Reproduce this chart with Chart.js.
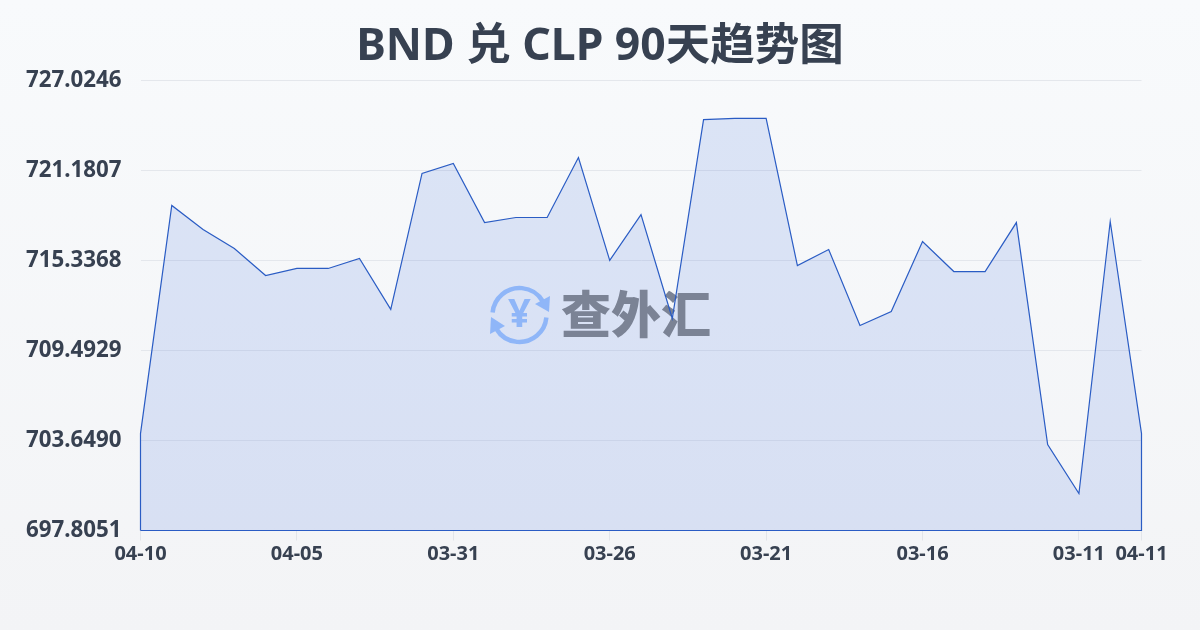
<!DOCTYPE html>
<html><head><meta charset="utf-8">
<style>
html,body{margin:0;padding:0;width:1200px;height:630px;overflow:hidden;background:linear-gradient(180deg,#f8fafc 0%,#f3f4f6 100%);}
#wrap{position:absolute;left:0;top:0;width:1200px;height:630px;}
</style>
<script src="https://cdn.jsdelivr.net/npm/chart.js@4/dist/chart.umd.min.js"></script>
</head><body><div id="wrap"><canvas id="c" width="1200" height="630"></canvas></div>
<script>
const titleText = "BND 兑 CLP 90天趋势图";
const watermarkText = "查外汇";
const rates = [704.10,718.91,717.35,716.12,714.36,714.82,714.82,715.47,712.16,720.99,721.64,717.80,718.13,718.13,722.02,715.34,718.32,711.57,724.49,724.56,724.56,715.01,716.05,711.12,712.03,716.57,714.62,714.62,717.80,703.39,700.21,717.87,704.10];
const xTickPositions = [0,5,10,15,20,25,30,32];
const xTickLabels = ["04-10","04-05","03-31","03-26","03-21","03-16","03-11","04-11"];
const yTickValues = [697.8051,703.6490,709.4929,715.3368,721.1807,727.0246];
const yTickLabels = ["697.8051","703.6490","709.4929","715.3368","721.1807","727.0246"];

const yMin = yTickValues[0], yMax = yTickValues[yTickValues.length-1];
const area = rates.map((v,i)=>({x:i,y:v}));
const outline = [{x:0,y:yMin}].concat(area,[{x:rates.length-1,y:yMin},{x:0,y:yMin}]);

const watermark = {
  id:'watermark',
  afterDatasetDraw(chart,args){
    if(args.index!==1) return;
    const c = chart.ctx, cx=519.5, cy=315, r=27;
    c.save();
    c.strokeStyle='#8fb6f8'; c.fillStyle='#8fb6f8'; c.lineWidth=4.5; c.lineCap='butt';
    c.beginPath(); c.arc(cx,cy,r,Math.PI*1.03,Math.PI*1.83); c.stroke();
    c.beginPath(); c.arc(cx,cy,r,Math.PI*0.03,Math.PI*0.83); c.stroke();
    c.beginPath(); c.moveTo(550,296); c.lineTo(549,312); c.lineTo(535,304); c.closePath(); c.fill();
    c.beginPath(); c.moveTo(490,334); c.lineTo(491,317); c.lineTo(505,326); c.closePath(); c.fill();
    c.font='bold 40px "Noto Sans"'; c.textAlign='center'; c.textBaseline='middle';
    c.fillText('¥',cx,cy+1);
    c.fillStyle='#7b8395'; c.textAlign='left'; c.textBaseline='alphabetic';
    c.font='900 50px "Noto Sans CJK SC"';
    c.fillText(watermarkText,561,333);
    c.restore();
  }
};

new Chart(document.getElementById('c'),{
  type:'line',
  plugins:[watermark],
  data:{datasets:[
  {
    data:outline,
    borderColor:'#2a5cc4',
    borderWidth:1.2,
    pointRadius:0,
    tension:0,
    fill:false,
    clip:false
  },
  {
    data:area,
    borderWidth:0,
    pointRadius:0,
    tension:0,
    fill:'start',
    backgroundColor:'rgba(59,110,220,.15)'
  }]},
  options:{
    responsive:false,animation:false,
    plugins:{
      legend:{display:false},tooltip:{enabled:false},
      title:{display:true,text:titleText,color:'#374151',
        font:{family:'"Noto Sans","Noto Sans CJK SC"',size:44.5,weight:'bold',lineHeight:1.2},
        padding:{top:21,bottom:6.1}}
    },
    scales:{
      x:{type:'linear',min:0,max:rates.length-1,
        afterBuildTicks(s){s.ticks=xTickPositions.map(v=>({value:v}));},
        afterFit(s){s.height=99.5;},
        border:{display:false},
        grid:{drawOnChartArea:false,drawTicks:true,tickLength:10,color:'#e2e5ea'},
        ticks:{autoSkip:false,maxRotation:0,padding:2,color:'#374151',
          font:{family:'"Noto Sans"',size:20,weight:'bold'},
          callback(v){const i=xTickPositions.indexOf(v);return i<0?'':xTickLabels[i];}}
      },
      y:{type:'linear',min:yMin,max:yMax,
        afterBuildTicks(s){s.ticks=yTickValues.map(v=>({value:v}));},
        afterFit(s){s.width=140.5;},
        border:{display:false},
        grid:{drawTicks:false,color:'#e4e7ec'},
        ticks:{padding:19,color:'#374151',
          font:{family:'"Noto Sans"',size:22.3,weight:'bold'},
          callback(v){const i=yTickValues.indexOf(v);return i<0?'':yTickLabels[i];}}
      },
      yRight:{type:'linear',position:'right',
        afterFit(s){s.width=58.5;},
        border:{display:false},
        grid:{display:false},
        ticks:{display:false}
      }
    }
  }
});
</script></body></html>
